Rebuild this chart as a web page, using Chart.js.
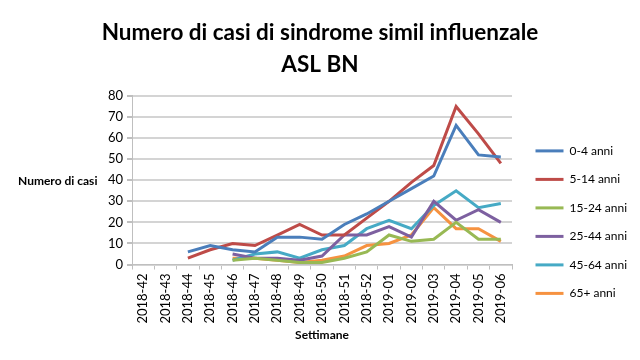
<!DOCTYPE html>
<html>
<head>
<meta charset="utf-8">
<script src="https://cdn.jsdelivr.net/npm/chart.js@4"></script>
<style>
  html, body { margin: 0; padding: 0; background: #fff; }
  #wrap { width: 640px; height: 360px; }
</style>
</head>
<body>
<div id="wrap"><canvas id="chart" width="640" height="360"></canvas></div>
<script>
const weeks = ["2018-42", "2018-43", "2018-44", "2018-45", "2018-46", "2018-47", "2018-48", "2018-49", "2018-50",
  "2018-51", "2018-52", "2019-01", "2019-02", "2019-03", "2019-04", "2019-05", "2019-06"];
const age0_4 = [null, null, 6, 9, 7, 6, 13, 13, 12, 19, 24, 30, 36, 42, 66, 52, 51];
const age5_14 = [null, null, 3, 7, 10, 9, 14, 19, 14, 14, 22, 30, 39, 47, 75, 62, 48];
const age15_24 = [null, null, null, null, 2, 3, 2, 1, 1, 3, 6, 14, 11, 12, 20, 12, 12];
const age25_44 = [null, null, null, null, 5, 3, 3, 2, 4, 14, 14, 18, 13, 30, 21, 26, 20];
const age45_64 = [null, null, null, null, 2, 5, 6, 3, 7, 9, 17, 21, 17, 28, 35, 27, 29];
const age65 = [null, null, null, null, 3, 3, 2, 1, 2, 4, 9, 10, 14, 27, 17, 17, 11];

const FONT = "Lato, 'Open Sans', sans-serif";

function serie(label, data, color) {
  return {
    label: label,
    data: data,
    borderColor: color,
    backgroundColor: color,
    borderWidth: 3,
    pointRadius: 0,
    tension: 0,
    spanGaps: false,
  };
}

// titolo asse y orizzontale, come nel grafico excel
const yLabel = {
  id: "yLabel",
  afterDraw(chart) {
    const ctx = chart.ctx;
    const y = chart.scales.y.getPixelForValue(40);
    ctx.save();
    ctx.font = "bold 12px " + FONT;
    ctx.fillStyle = "#000";
    ctx.textAlign = "left";
    ctx.textBaseline = "middle";
    ctx.fillText("Numero di casi", 18, y + 1);
    ctx.restore();
  },
};

// larghezza fissa per la legenda, poi la sposto un po' a destra
const legendWidth = {
  id: "legendWidth",
  beforeLayout(chart) {
    const lg = chart.legend;
    if (lg && !lg._fixed) {
      const fit = lg.fit.bind(lg);
      lg.fit = function () {
        fit();
        this.width = 128;
      };
      lg._fixed = true;
    }
  },
  afterLayout(chart) {
    chart.legend.left += 7;
    chart.legend.right += 7;
  },
};

new Chart(document.getElementById("chart"), {
  type: "line",
  data: {
    labels: weeks,
    datasets: [
      serie("0-4 anni", age0_4, "#4a7ebb"),
      serie("5-14 anni", age5_14, "#be4b48"),
      serie("15-24 anni", age15_24, "#98b954"),
      serie("25-44 anni", age25_44, "#7d60a0"),
      serie("45-64 anni", age45_64, "#46aac5"),
      serie("65+ anni", age65, "#f69240"),
    ],
  },
  options: {
    responsive: false,
    animation: false,
    layout: { padding: { left: 0, right: 0, top: 0, bottom: 18 } },
    plugins: {
      title: {
        display: true,
        text: ["Numero di casi di sindrome simil influenzale", "ASL BN"],
        color: "#000",
        font: { family: FONT, size: 22.5, weight: "bold", lineHeight: 1.42 },
        padding: { top: 17, bottom: 15 },
      },
      legend: {
        position: "right",
        align: "start",
        title: { display: true, text: "", padding: { top: 114, bottom: 0 }, font: { family: FONT, size: 12 } },
        labels: {
          usePointStyle: true,
          pointStyle: "line",
          pointStyleWidth: 28,
          padding: 16.5,
          color: "#000",
          font: { family: FONT, size: 12 },
        },
      },
      tooltip: { enabled: false },
    },
    scales: {
      x: {
        offset: true,
        grid: { display: true, drawOnChartArea: false, drawTicks: true, tickLength: 5, offset: true, color: "#bfbfbf" },
        border: { color: "#bfbfbf" },
        ticks: { maxRotation: 90, minRotation: 90, autoSkip: false, color: "#000", padding: 4, font: { family: FONT, size: 13 } },
        title: { display: true, text: "Settimane", color: "#000", padding: { top: 0, bottom: 0 }, font: { family: FONT, size: 12, weight: "bold" } },
      },
      y: {
        min: 0,
        max: 80,
        ticks: { stepSize: 10, color: "#000", padding: 4, font: { family: FONT, size: 13 } },
        grid: { color: "#d4d4d4", lineWidth: 2, tickLength: 5, tickColor: "#bfbfbf" },
        border: { color: "#bfbfbf" },
        afterFit(scale) {
          scale.width = 132;
        },
      },
    },
  },
  plugins: [yLabel, legendWidth],
});
</script>
</body>
</html>
